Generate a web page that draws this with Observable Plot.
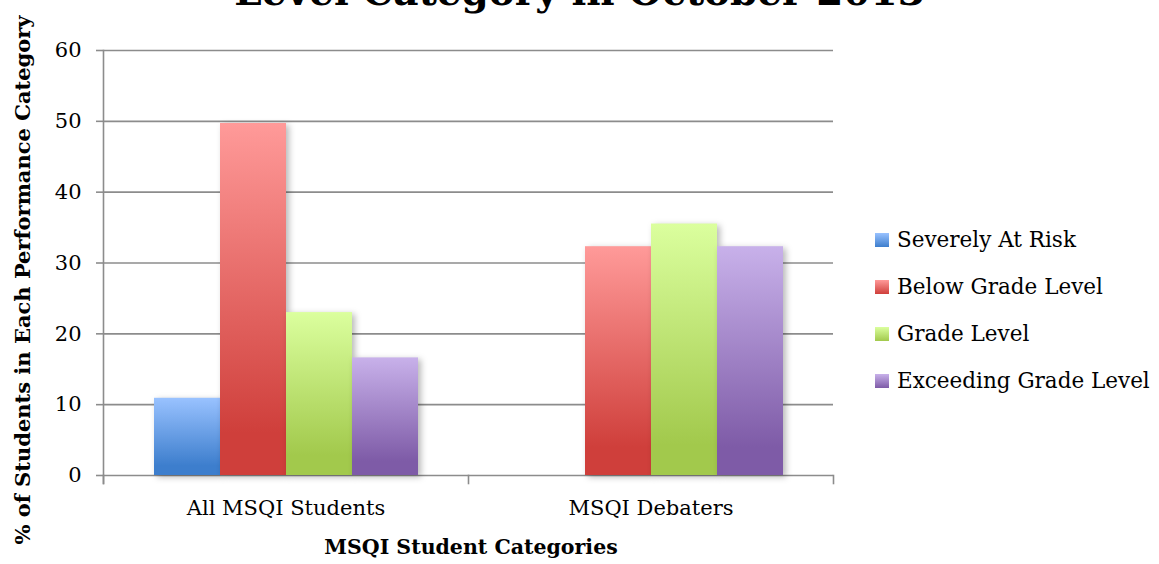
<!DOCTYPE html>
<html><head><meta charset="utf-8">
<script src="https://cdn.jsdelivr.net/npm/d3@7"></script>
<script src="https://cdn.jsdelivr.net/npm/@observablehq/plot@0.6"></script>
<style>
body{margin:0;background:#fff;}
#wrap{position:relative;width:1159px;height:564px;overflow:hidden;font-family:"DejaVu Serif",serif;color:#000;}
#title{position:absolute;left:0;width:1159px;top:-31px;text-align:center;font-weight:bold;font-size:39px;line-height:44px;white-space:nowrap;}
#ylab{position:absolute;left:22px;top:280px;transform:translate(-50%,-50%) rotate(-90deg);font-weight:bold;font-size:21px;white-space:nowrap;}
#xlab{position:absolute;left:471px;top:547px;transform:translate(-50%,-50%);font-weight:bold;font-size:20.5px;white-space:nowrap;}
#legend{position:absolute;left:875px;top:216px;font-size:21.5px;}
#legend .item{display:flex;align-items:center;height:47px;}
#legend .sw{width:14px;height:14px;margin-right:8px;}
svg{position:absolute;left:0;top:0;}
</style></head>
<body><div id="wrap">
<div id="title">Level Category in October 2013</div>
<div id="ylab">% of Students in Each Performance Category</div>
<div id="xlab">MSQI Student Categories</div>
<div id="legend"></div>
</div>
<script>
const groups = ["All MSQI Students", "MSQI Debaters"];
const series = ["Severely At Risk", "Below Grade Level", "Grade Level", "Exceeding Grade Level"];
const allStudentsValues = [10.9, 49.7, 23.0, 16.6];
const debatersValues = [0, 32.3, 35.5, 32.3];
const yTicks = [0, 10, 20, 30, 40, 50, 60];
const topColors = ["#99c2ff", "#ff9a99", "#dbff9e", "#c8b1ea"];
const bottomColors = ["#3d7ecd", "#cf3f3b", "#a2c94c", "#7e5ba7"];

const data = [];
groups.forEach((g, gi) => {
  const vals = gi === 0 ? allStudentsValues : debatersValues;
  series.forEach((s, si) => data.push({group: g, series: s, value: vals[si], fill: `url(#grad${si})`}));
});

const W = 1159, H = 564, mt = 50, mb = 89, ml = 103, mr = 326;
const plotH = H - mt - mb;
const gray = "#8c8c8c";

const chart = Plot.plot({
  width: W, height: H,
  marginTop: mt, marginBottom: mb, marginLeft: ml, marginRight: mr,
  style: {fontFamily: '"DejaVu Serif", serif', fontSize: "21px", color: "#000", background: "transparent"},
  fx: {domain: groups, padding: 0},
  x: {domain: series, paddingInner: 0, paddingOuter: 0.75},
  y: {domain: [0, 60]},
  color: {type: "identity"},
  marks: [
    Plot.gridY(yTicks, {stroke: gray, strokeOpacity: 1, strokeWidth: 1.6}),
    Plot.barY(data, {fx: "group", x: "series", y: "value", fill: "fill"}),
    Plot.axisY(yTicks, {tickSize: 7, tickPadding: 15, stroke: gray, fill: "#000", label: null, strokeWidth: 1.6}),
    Plot.axisFx({anchor: "bottom", tickSize: 0, tickPadding: 25, label: null, fill: "#000"}),
    Plot.axisX({ticks: [], label: null}),
    Plot.frame({facet: "super", anchor: "left", insetBottom: -8, stroke: gray, strokeWidth: 1.6}),
    Plot.frame({anchor: "left", insetTop: plotH, insetBottom: -8, stroke: gray, strokeWidth: 1.6}),
    Plot.frame({facet: "super", anchor: "right", insetTop: plotH, insetBottom: -8, stroke: gray, strokeWidth: 1.6})
  ]
});

const svg = d3.select(chart);
const defs = svg.insert("defs", ":first-child");
topColors.forEach((c, i) => {
  const lg = defs.append("linearGradient").attr("id", `grad${i}`).attr("x1", 0).attr("y1", 0).attr("x2", 0).attr("y2", 1);
  lg.append("stop").attr("offset", "0").attr("stop-color", c);
  lg.append("stop").attr("offset", "0.88").attr("stop-color", bottomColors[i]);
  lg.append("stop").attr("offset", "1").attr("stop-color", bottomColors[i]);
});
svg.selectAll("g[aria-label='bar'] rect").style("filter", "drop-shadow(3px 2px 3px rgba(0,0,0,0.28))");
document.getElementById("wrap").appendChild(chart);

const legend = d3.select("#legend");
series.forEach((s, i) => {
  const it = legend.append("div").attr("class", "item");
  it.append("div").attr("class", "sw").style("background", `linear-gradient(${topColors[i]}, ${bottomColors[i]})`);
  it.append("span").text(s);
});
</script>
</body></html>
